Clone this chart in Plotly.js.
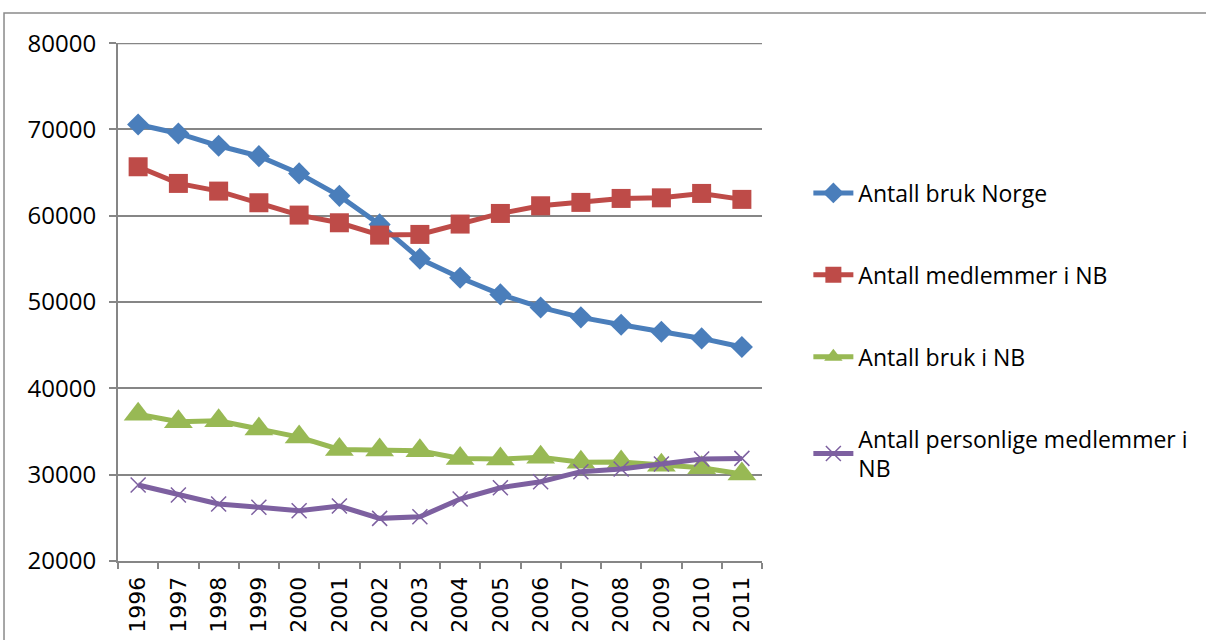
<!DOCTYPE html>
<html>
<head>
<meta charset="utf-8">
<script src="https://cdn.plot.ly/plotly-3.0.1.min.js"></script>
<style>
  html, body { margin: 0; padding: 0; background: #ffffff; }
  #chart { width: 1206px; height: 640px; }
</style>
</head>
<body>
<div id="chart"></div>
<script>
const years = ['1996','1997','1998','1999','2000','2001','2002','2003','2004','2005','2006','2007','2008','2009','2010','2011'];
const brukNorge = [70580, 69540, 68110, 66910, 64910, 62310, 59000, 55020, 52820, 50890, 49380, 48230, 47370, 46560, 45790, 44790];
const medlemmerNB = [65680, 63750, 62860, 61510, 60080, 59190, 57760, 57840, 59040, 60270, 61160, 61550, 62010, 62080, 62590, 61900];
const brukNB = [37000, 36140, 36250, 35290, 34360, 32930, 32860, 32780, 31890, 31810, 32010, 31430, 31470, 31080, 30810, 30080];
const personligeNB = [28800, 27650, 26600, 26220, 25830, 26370, 24940, 25130, 27180, 28490, 29190, 30350, 30660, 31240, 31810, 31890];
const seriesNames = ['Antall bruk Norge', 'Antall medlemmer i NB', 'Antall bruk i NB', 'Antall personlige medlemmer i<br>NB'];
const yTicks = [20000, 30000, 40000, 50000, 60000, 70000, 80000];
const yMax = 80000;

const traces = [
  {x: years, y: brukNorge, name: seriesNames[0], legendgroup: 'a',
   line: {color: '#4a7ebb', width: 5},
   marker: {symbol: 'diamond', size: 17, color: '#4a7ebb'}},
  {x: years, y: medlemmerNB, name: seriesNames[1], legendgroup: 'b',
   line: {color: '#be4b48', width: 5},
   marker: {symbol: 'square', size: 19, color: '#be4b48'}},
  {x: years, y: brukNB, name: seriesNames[2], legendgroup: 'c',
   line: {color: '#98b954', width: 5},
   marker: {symbol: 'triangle-up', size: 25, color: '#98b954'}},
  {x: years, y: personligeNB, name: seriesNames[3], legendgroup: 'd',
   line: {color: '#7d60a0', width: 5},
   marker: {symbol: 'x-thin-open', size: 15, color: '#7d60a0', line: {color: '#7d60a0', width: 1.5}}}
].map(t => Object.assign({type: 'scatter', mode: 'lines+markers'}, t));

const layout = {
  width: 1206, height: 640,
  margin: {l: 118, r: 444, t: 43, b: 79, pad: 0},
  paper_bgcolor: '#ffffff', plot_bgcolor: '#ffffff',
  font: {family: 'Open Sans, sans-serif', color: '#000000'},
  showlegend: true,
  legend: {
    x: 1.072, xanchor: 'left', y: 0.752, yanchor: 'top',
    font: {family: 'Open Sans, sans-serif', size: 23, color: '#000000'},
    tracegroupgap: 49, itemwidth: 40,
    bgcolor: 'rgba(0,0,0,0)', borderwidth: 0
  },
  xaxis: {
    type: 'category', tickson: 'boundaries', range: [-0.5, 15.5],
    showline: true, linecolor: '#868686', linewidth: 2,
    ticks: 'outside', ticklen: 6, tickcolor: '#868686', tickwidth: 2,
    tickangle: -90, ticklabelstandoff: 5,
    tickfont: {family: 'DejaVu Sans, sans-serif', size: 22, color: '#000000'},
    showgrid: false, zeroline: false, fixedrange: true
  },
  yaxis: {
    range: [20000, 80020], tickvals: yTicks, ticktext: yTicks.map(String),
    showline: true, linecolor: '#868686', linewidth: 2,
    ticks: 'outside', ticklen: 7, tickcolor: '#868686', tickwidth: 2,
    ticklabelstandoff: 8,
    tickfont: {family: 'Open Sans, sans-serif', size: 24, color: '#000000'},
    showgrid: true, gridcolor: '#868686', gridwidth: 2,
    zeroline: false, fixedrange: true
  },
  shapes: [{
    type: 'rect', xref: 'paper', yref: 'paper',
    x0: -0.177, x1: 1.8, y0: -0.4, y1: 1.058,
    line: {color: '#8a8a8a', width: 1.5}, fillcolor: 'rgba(0,0,0,0)', layer: 'below'
  }, {
    type: 'line', xref: 'paper', yref: 'y',
    x0: 0, x1: 1, y0: yMax, y1: yMax,
    line: {color: '#868686', width: 2}, layer: 'below'
  }]
};

Plotly.newPlot('chart', traces, layout, {displayModeBar: false, staticPlot: true});
</script>
</body>
</html>
